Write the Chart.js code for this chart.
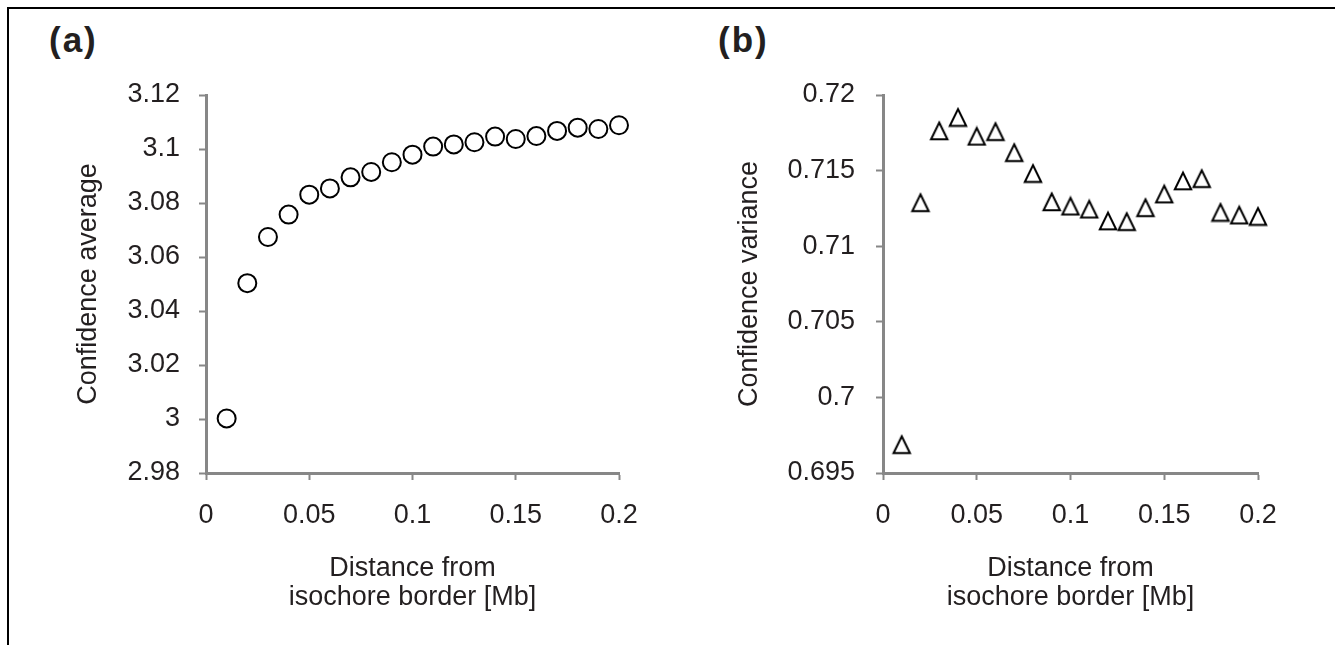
<!DOCTYPE html>
<html><head><meta charset="utf-8">
<script src="https://cdn.jsdelivr.net/npm/chart.js@4"></script>
<style>
html,body{margin:0;padding:0;background:#fff;}
body{width:1335px;height:645px;position:relative;overflow:hidden;font-family:"Liberation Sans",Arial,Helvetica,sans-serif;}
#frame{position:absolute;left:7px;top:7px;right:-10px;bottom:-10px;border-top:2px solid #000;border-left:2px solid #000;}
.plabel{position:absolute;font-weight:bold;font-size:35px;line-height:35px;color:#231f20;letter-spacing:2px;}
canvas{position:absolute;top:0;}
</style></head>
<body>
<div id="frame"></div>
<div class="plabel" style="left:49px;top:22px">(a)</div>
<div class="plabel" style="left:718px;top:22px">(b)</div>
<canvas id="ca" width="667" height="645" style="left:0"></canvas>
<canvas id="cb" width="668" height="645" style="left:667px"></canvas>
<script>
// ---- data ----
const distances = [0.01,0.02,0.03,0.04,0.05,0.06,0.07,0.08,0.09,0.10,0.11,0.12,0.13,0.14,0.15,0.16,0.17,0.18,0.19,0.20];
const confidenceAverage = [3.0002,3.0503,3.0674,3.0757,3.0831,3.0854,3.0895,3.0915,3.0951,3.0979,3.1009,3.1017,3.1025,3.1046,3.1037,3.1048,3.1067,3.1079,3.1074,3.1088];
const confidenceVariance = [0.6969,0.71290,0.71765,0.71854,0.71729,0.71760,0.71621,0.71483,0.71296,0.71267,0.71247,0.71169,0.71165,0.71257,0.71347,0.71434,0.71449,0.71226,0.71208,0.71199];
const xTickValues = [0,0.05,0.1,0.15,0.2];
const xTickLabels = ['0','0.05','0.1','0.15','0.2'];
const yTickValuesA = [2.98,3,3.02,3.04,3.06,3.08,3.1,3.12];
const yTickLabelsA = ['2.98','3','3.02','3.04','3.06','3.08','3.1','3.12'];
const yTickValuesB = [0.695,0.7,0.705,0.71,0.715,0.72];
const yTickLabelsB = ['0.695','0.7','0.705','0.71','0.715','0.72'];
const xTitle = ['Distance from','isochore border [Mb]'];
const yTitleA = 'Confidence average';
const yTitleB = 'Confidence variance';

// ---- styles ----
const TEXT = '#231f20';
const AXIS = '#878787';
const FONT = '"Liberation Sans", Arial, Helvetica, sans-serif';
Chart.defaults.font.family = FONT;
Chart.defaults.color = TEXT;

function triangleMarker(){
  const c = document.createElement('canvas');
  c.width = 22; c.height = 21;
  const g = c.getContext('2d');
  g.lineWidth = 2; g.strokeStyle = '#000'; g.fillStyle = '#fff'; g.lineJoin = 'miter';
  g.beginPath();
  g.moveTo(11, 2.5); g.lineTo(19.2, 19.3); g.lineTo(2.8, 19.3); g.closePath();
  g.fill(); g.stroke();
  return c;
}

function makeChart(id, values, yVals, yLabels, yTitle, geo, pointOpts){
  return new Chart(document.getElementById(id), {
    type: 'scatter',
    data: { datasets: [Object.assign({
      data: distances.map((d,i)=>({x:d, y:values[i]})),
      showLine: false, clip: false
    }, pointOpts)] },
    options: {
      responsive: false, animation: false, devicePixelRatio: 1, events: [],
      layout: { padding: { left: 0, top: geo.top, right: geo.right, bottom: 0 } },
      plugins: { legend: { display: false }, tooltip: { enabled: false } },
      scales: {
        x: {
          type: 'linear', min: 0, max: 0.2,
          afterBuildTicks: s => { s.ticks = xTickValues.map(v => ({ value: v })); },
          afterFit: s => { s.height = geo.xHeight; },
          ticks: { autoSkip: false, maxRotation: 0, minRotation: 0, padding: 19, color: TEXT,
                   font: { size: 27, family: FONT },
                   callback: (v, i) => xTickLabels[i] },
          grid: { drawOnChartArea: false, drawTicks: true, tickLength: 7, tickWidth: 2, tickColor: AXIS },
          border: { display: true, color: AXIS, width: 3 },
          title: { display: true, text: xTitle, color: TEXT, font: { size: 27, family: FONT, lineHeight: 1.05 },
                   padding: { top: 0, bottom: 33.6 } }
        },
        y: {
          type: 'linear', min: yVals[0], max: yVals[yVals.length-1],
          afterBuildTicks: s => { s.ticks = yVals.map(v => ({ value: v })); },
          afterFit: s => { s.width = geo.yWidth; },
          ticks: { autoSkip: false, padding: geo.yTickPad, color: TEXT,
                   font: { size: 27, family: FONT },
                   callback: (v, i) => yLabels[i] },
          grid: { drawOnChartArea: false, drawTicks: true, tickLength: 7, tickWidth: 2, tickColor: AXIS },
          border: { display: true, color: AXIS, width: 3 },
          title: { display: true, text: yTitle, color: TEXT, font: { size: 27, family: FONT, lineHeight: 1.05 },
                   padding: { top: geo.yTitlePad, bottom: 0 } }
        }
      }
    }
  });
}

makeChart('ca', confidenceAverage, yTickValuesA, yTickLabelsA, yTitleA,
  { top: 95, right: 48, xHeight: 172, yWidth: 206, yTickPad: 19, yTitlePad: 74 },
  { pointStyle: 'circle', pointRadius: 9, borderWidth: 2, borderColor: '#000', backgroundColor: '#fff' });

makeChart('cb', confidenceVariance, yTickValuesB, yTickLabelsB, yTitleB,
  { top: 95, right: 77, xHeight: 172, yWidth: 216, yTickPad: 21, yTitlePad: 68.5 },
  { pointStyle: triangleMarker(), pointRadius: 10, borderWidth: 0 });
</script>
</body></html>
